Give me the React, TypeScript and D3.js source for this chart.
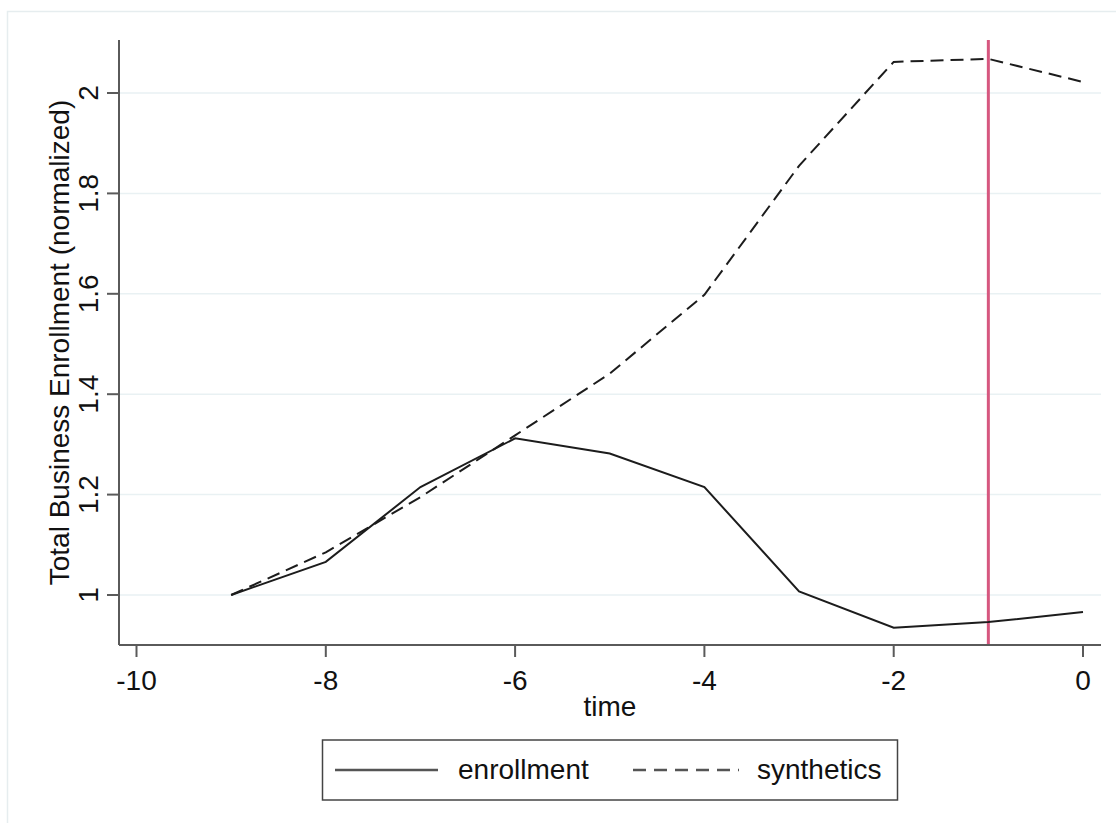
import React from "react";
import * as d3 from "d3";

const timeVals = [-9, -8, -7, -6, -5, -4, -3, -2, -1, 0];
const enrollment = [1.0, 1.066, 1.215, 1.312, 1.282, 1.215, 1.007, 0.935, 0.946, 0.966];
const synthetics = [1.0, 1.085, 1.195, 1.318, 1.441, 1.598, 1.855, 2.062, 2.068, 2.022];
const xTicks = [-10, -8, -6, -4, -2, 0];
const yTicks = [1, 1.2, 1.4, 1.6, 1.8, 2];
const treatTime = -1;
const seriesNames = ["enrollment", "synthetics"];

const W = 1116;
const H = 823;
const FONT = "'Liberation Sans', Arial, sans-serif";

export default function App() {
  const x = d3.scaleLinear().domain([-10, 0]).range([136.5, 1083]);
  const y = d3.scaleLinear().domain([1, 2]).range([595, 93]);
  const plotL = 119, plotR = 1101, plotT = 40, plotB = 645;

  const line = d3
    .line<[number, number]>()
    .x((d) => x(d[0]))
    .y((d) => y(d[1]));

  const enrollPts = timeVals.map((t, i) => [t, enrollment[i]] as [number, number]);
  const synthPts = timeVals.map((t, i) => [t, synthetics[i]] as [number, number]);

  const axisColor = "#5a5a5a";
  const gridColor = "#e9f1f3";
  const lineColor = "#1c1c1c";
  const fs = 28;

  return (
    <svg
      width={W}
      height={H}
      style={{ position: "absolute", left: 0, top: 0, background: "#fff" }}
      fontFamily={FONT}
    >
      <rect x={0} y={0} width={W} height={H} fill="#fff" />
      <rect x={7.5} y={11.5} width={W + 50} height={H + 50} fill="none" stroke="#e6edef" strokeWidth={1.5} />

      {/* gridlines */}
      {yTicks.map((t) => (
        <line key={"g" + t} x1={plotL} x2={plotR} y1={y(t)} y2={y(t)} stroke={gridColor} strokeWidth={1.5} />
      ))}

      {/* treatment line */}
      <line x1={x(treatTime)} x2={x(treatTime)} y1={plotT} y2={plotB} stroke="#d6577f" strokeWidth={3} />

      {/* series */}
      <path d={line(synthPts) || ""} fill="none" stroke={lineColor} strokeWidth={2} strokeDasharray="13,7" />
      <path d={line(enrollPts) || ""} fill="none" stroke={lineColor} strokeWidth={2} />

      {/* axes */}
      <line x1={plotL} x2={plotL} y1={plotT} y2={plotB} stroke={axisColor} strokeWidth={2} />
      <line x1={plotL} x2={plotR} y1={plotB} y2={plotB} stroke={axisColor} strokeWidth={2} />

      {yTicks.map((t) => (
        <g key={"yt" + t}>
          <line x1={107} x2={plotL} y1={y(t)} y2={y(t)} stroke={axisColor} strokeWidth={2} />
          <text
            transform={`translate(98,${y(t)}) rotate(-90)`}
            textAnchor="middle"
            fontSize={fs}
            fill="#111"
          >
            {String(t)}
          </text>
        </g>
      ))}

      {xTicks.map((t) => (
        <g key={"xt" + t}>
          <line x1={x(t)} x2={x(t)} y1={plotB} y2={657} stroke={axisColor} strokeWidth={2} />
          <text x={x(t)} y={690} textAnchor="middle" fontSize={fs} fill="#111">
            {t < 0 ? "-" + Math.abs(t) : String(t)}
          </text>
        </g>
      ))}

      <text x={(plotL + plotR) / 2} y={716} textAnchor="middle" fontSize={fs} fill="#111">
        time
      </text>
      <text
        transform={`translate(69,${(plotT + plotB) / 2}) rotate(-90)`}
        textAnchor="middle"
        fontSize={fs}
        fill="#111"
      >
        Total Business Enrollment (normalized)
      </text>

      {/* legend */}
      <rect x={322.5} y={740} width={575} height={60} fill="#fff" stroke="#444" strokeWidth={1.5} />
      <line x1={335} x2={438} y1={770} y2={770} stroke="#555" strokeWidth={2.5} />
      <text x={458} y={779} fontSize={fs} fill="#111">{seriesNames[0]}</text>
      <line x1={633} x2={739} y1={770} y2={770} stroke="#555" strokeWidth={2.5} strokeDasharray="13,8" />
      <text x={757} y={779} fontSize={fs} fill="#111">{seriesNames[1]}</text>
    </svg>
  );
}
